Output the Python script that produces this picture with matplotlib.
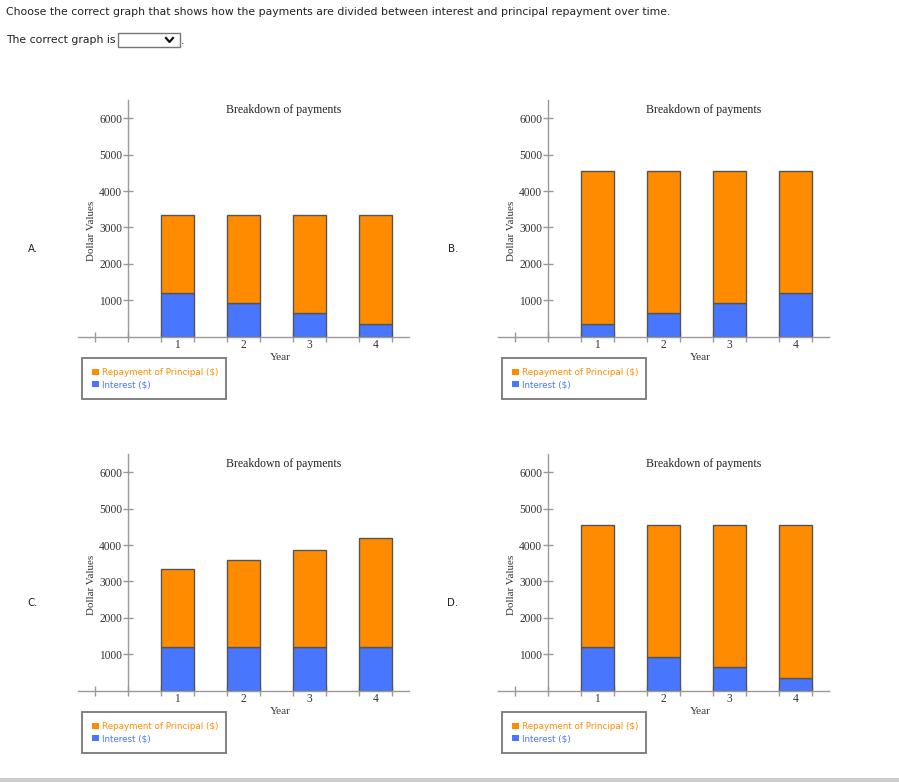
#!/usr/bin/env python
'''
four candidate charts: how loan payments split between interest and principal
'''

import matplotlib
matplotlib.use("Agg")
import matplotlib.pyplot as plt
from matplotlib.patches import Rectangle
from matplotlib.lines import Line2D

years = [1, 2, 3, 4]
year_labels = ["1", "2", "3", "4"]

interest_a = [1200, 930, 650, 340]
principal_a = [2130, 2400, 2680, 2990]

interest_b = [340, 650, 930, 1200]
principal_b = [4210, 3900, 3620, 3350]

interest_c = [1200, 1200, 1200, 1200]
principal_c = [2130, 2400, 2670, 2980]

interest_d = [1200, 930, 650, 340]
principal_d = [3350, 3620, 3900, 4210]

panel_names = ["A.", "B.", "C.", "D."]

W, H = 899, 782
ORANGE = "#FF8C00"
BLUE = "#4876FF"
SERIF = "Liberation Serif"


def fx(px):
    return px / W


def fy(py):
    return 1 - py / H


def draw_panel(fig, dx, dy, interest, principal, name):
    # axes box in pixels: x -0.5..4.5 -> 78..409, y 0..6500 -> 336.7..100
    left, right, top, bottom = 78 + dx, 409 + dx, 100 + dy, 336.7 + dy
    ax = fig.add_axes([fx(left), fy(bottom), (right - left) / W, (bottom - top) / H])
    ax.set_xlim(-0.5, 4.5)
    ax.set_ylim(0, 6500)
    ax.patch.set_alpha(0)

    b1 = ax.bar(years, interest, width=0.5, color=BLUE, edgecolor="#555555",
                linewidth=1, label="Interest ($)", zorder=2)
    b2 = ax.bar(years, principal, width=0.5, bottom=interest, color=ORANGE,
                edgecolor="#555555", linewidth=1, label="Repayment of Principal ($)",
                zorder=2)

    for s in ["top", "right"]:
        ax.spines[s].set_visible(False)
    ax.spines["left"].set_position(("data", 0.25))
    for s in ["left", "bottom"]:
        ax.spines[s].set_color("#999999")
        ax.spines[s].set_linewidth(1)
        ax.spines[s].set_zorder(3)

    ax.set_axisbelow(True)
    ax.set_xticks([-0.25 + 0.5 * i for i in range(10)])
    ax.set_xticklabels([])
    ax.set_xticks(years, minor=True)
    ax.set_xticklabels(year_labels, minor=True, fontfamily=SERIF, fontsize=8.3,
                       color="#333333")
    ax.tick_params(axis="x", which="major", direction="inout", length=7,
                   color="#999999", width=1)
    ax.tick_params(axis="x", which="minor", length=0, pad=2)

    ax.set_yticks([1000, 2000, 3000, 4000, 5000, 6000])
    ax.set_yticklabels(["1000", "2000", "3000", "4000", "5000", "6000"],
                       fontfamily=SERIF, fontsize=8.3, color="#333333")
    ax.tick_params(axis="y", direction="inout", length=7, color="#999999",
                   width=1, pad=0.5)

    ax.text(0.622, 0.958, "Breakdown of payments", transform=ax.transAxes,
            ha="center", va="center", fontfamily=SERIF, fontsize=8.5,
            color="#222222")
    ax.set_ylabel("Dollar Values", fontfamily=SERIF, fontsize=7.9, color="#333333")
    ax.yaxis.set_label_coords(0.042, 0.447)
    ax.yaxis.label.set_va("center")
    ax.set_xlabel("Year", fontfamily=SERIF, fontsize=8.2, color="#333333")
    ax.xaxis.set_label_coords(0.61, -0.086)
    ax.xaxis.label.set_va("center")

    leg = ax.legend(handles=[b2, b1], loc="upper left",
                    bbox_to_anchor=(fx(82 + dx), fy(359 + dy), 144 / W, 0.001),
                    bbox_transform=fig.transFigure, mode="expand",
                    prop={"family": "DejaVu Sans", "size": 6.3},
                    handlelength=0.75, handleheight=0.75, handletextpad=0.4,
                    labelspacing=0.35, borderpad=1.15, borderaxespad=0,
                    fancybox=False, framealpha=1)
    leg.get_frame().set_edgecolor("#777777")
    leg.get_frame().set_linewidth(1.3)
    for patch in leg.get_patches():
        patch.set_edgecolor("none")
    leg.get_texts()[0].set_color(ORANGE)
    leg.get_texts()[1].set_color(BLUE)

    fig.text(fx(33 + dx), fy(249 + dy), name, ha="center", va="center",
             fontfamily="DejaVu Sans", fontsize=7.4, color="#222222")
    return ax


fig = plt.figure(figsize=(W / 100, H / 100), dpi=100)

fig.text(fx(6), fy(12), "Choose the correct graph that shows how the payments are divided "
         "between interest and principal repayment over time.",
         ha="left", va="center", fontfamily="DejaVu Sans", fontsize=7.8, color="#222222")
fig.text(fx(6), fy(40), "The correct graph is", ha="left", va="center",
         fontfamily="DejaVu Sans", fontsize=7.8, color="#222222")
fig.text(fx(181), fy(41), ".", ha="left", va="center",
         fontfamily="DejaVu Sans", fontsize=7.8, color="#222222")

# dropdown box
fig.patches.append(Rectangle((fx(118), fy(47)), 62 / W, 14 / H, transform=fig.transFigure,
                             facecolor="white", edgecolor="#767676", linewidth=1))
fig.lines.append(Line2D([fx(166), fx(169.5), fx(173)], [fy(38), fy(42), fy(38)],
                        transform=fig.transFigure, color="#111111", linewidth=1.6))

# bottom grey strip
fig.patches.append(Rectangle((0, 0), 1, 4 / H, transform=fig.transFigure,
                             facecolor="#cccccc", edgecolor="none"))

draw_panel(fig, 0, 0, interest_a, principal_a, panel_names[0])
draw_panel(fig, 420, 0, interest_b, principal_b, panel_names[1])
draw_panel(fig, 0, 354, interest_c, principal_c, panel_names[2])
draw_panel(fig, 420, 354, interest_d, principal_d, panel_names[3])

fig.savefig("out.png", dpi=100)
